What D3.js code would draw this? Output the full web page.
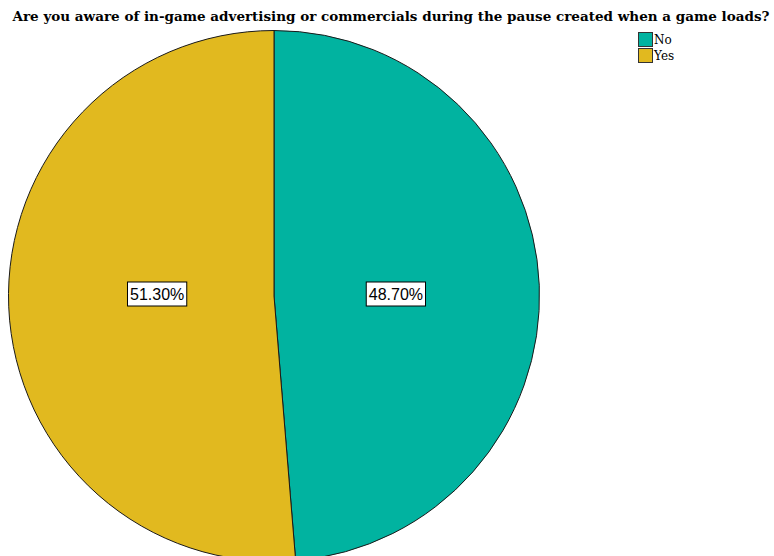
<!DOCTYPE html>
<html>
<head>
<meta charset="utf-8">
<script src="https://cdn.jsdelivr.net/npm/d3@7"></script>
<style>
  html, body { margin: 0; padding: 0; background: #fff; }
  svg { display: block; }
</style>
</head>
<body>
<div id="chart"></div>
<script>
// Data
const categories = ["No", "Yes"];
const percentages = [48.70, 51.30];
const colors = ["#01b3a0", "#e1b91f"];
const title = "Are you aware of in-game advertising or commercials during the pause created when a game loads?";

// Layout
const width = 774;
const height = 556;
const cx = 274;
const cy = 296;
const radius = 265.5;

const svg = d3.select("#chart")
  .append("svg")
  .attr("width", width)
  .attr("height", height);

// Title, shrunk to fit the width the reference uses
const titleText = svg.append("text")
  .attr("x", 391)
  .attr("y", 21)
  .attr("text-anchor", "middle")
  .attr("font-family", "'DejaVu Serif', serif")
  .attr("font-weight", "bold")
  .attr("font-size", 13)
  .attr("fill", "#000")
  .text(title);
const tw = titleText.node().getComputedTextLength();
if (tw > 0) titleText.attr("font-size", 13 * 758 / tw);

const color = d3.scaleOrdinal().domain(categories).range(colors);

const pie = d3.pie()
  .sort(null)
  .value(d => d.value);

const data = categories.map((c, i) => ({ name: c, value: percentages[i] }));
const arcs = pie(data);

const arc = d3.arc().innerRadius(0).outerRadius(radius);
const labelArc = d3.arc().innerRadius(0).outerRadius(radius * 0.9);

const g = svg.append("g").attr("transform", `translate(${cx},${cy})`);

g.selectAll("path.slice")
  .data(arcs)
  .join("path")
  .attr("class", "slice")
  .attr("d", arc)
  .attr("fill", d => color(d.data.name))
  .attr("stroke", "#1a1a1a")
  .attr("stroke-width", 1);

// Value labels in white boxes
const labels = g.selectAll("g.label")
  .data(arcs)
  .join("g")
  .attr("class", "label")
  .attr("transform", d => {
    const [x] = labelArc.centroid(d);
    return `translate(${x + 2.5},-2)`;
  });

labels.append("rect")
  .attr("fill", "#fff")
  .attr("stroke", "#000")
  .attr("stroke-width", 1);

labels.append("text")
  .attr("text-anchor", "middle")
  .attr("dominant-baseline", "central")
  .attr("font-family", "'Liberation Sans', Arial, sans-serif")
  .attr("font-size", 16)
  .attr("fill", "#000")
  .text(d => d.data.value.toFixed(2) + "%");

labels.each(function() {
  const t = d3.select(this).select("text").node();
  const w = t.getComputedTextLength();
  d3.select(this).select("rect")
    .attr("x", -w / 2 - 2.5)
    .attr("y", -12)
    .attr("width", w + 5)
    .attr("height", 24);
});

// Legend
const legend = svg.append("g").attr("transform", "translate(638,32)");
const items = legend.selectAll("g")
  .data(categories)
  .join("g")
  .attr("transform", (d, i) => `translate(0,${i * 16})`);

items.append("rect")
  .attr("x", 0.5)
  .attr("y", 0.5)
  .attr("width", 14)
  .attr("height", 14)
  .attr("fill", d => color(d))
  .attr("stroke", "#333")
  .attr("stroke-width", 1);

items.append("text")
  .attr("x", 16)
  .attr("y", 12)
  .attr("font-family", "'DejaVu Serif', serif")
  .attr("font-size", 12)
  .attr("fill", "#000")
  .text(d => d);
</script>
</body>
</html>
